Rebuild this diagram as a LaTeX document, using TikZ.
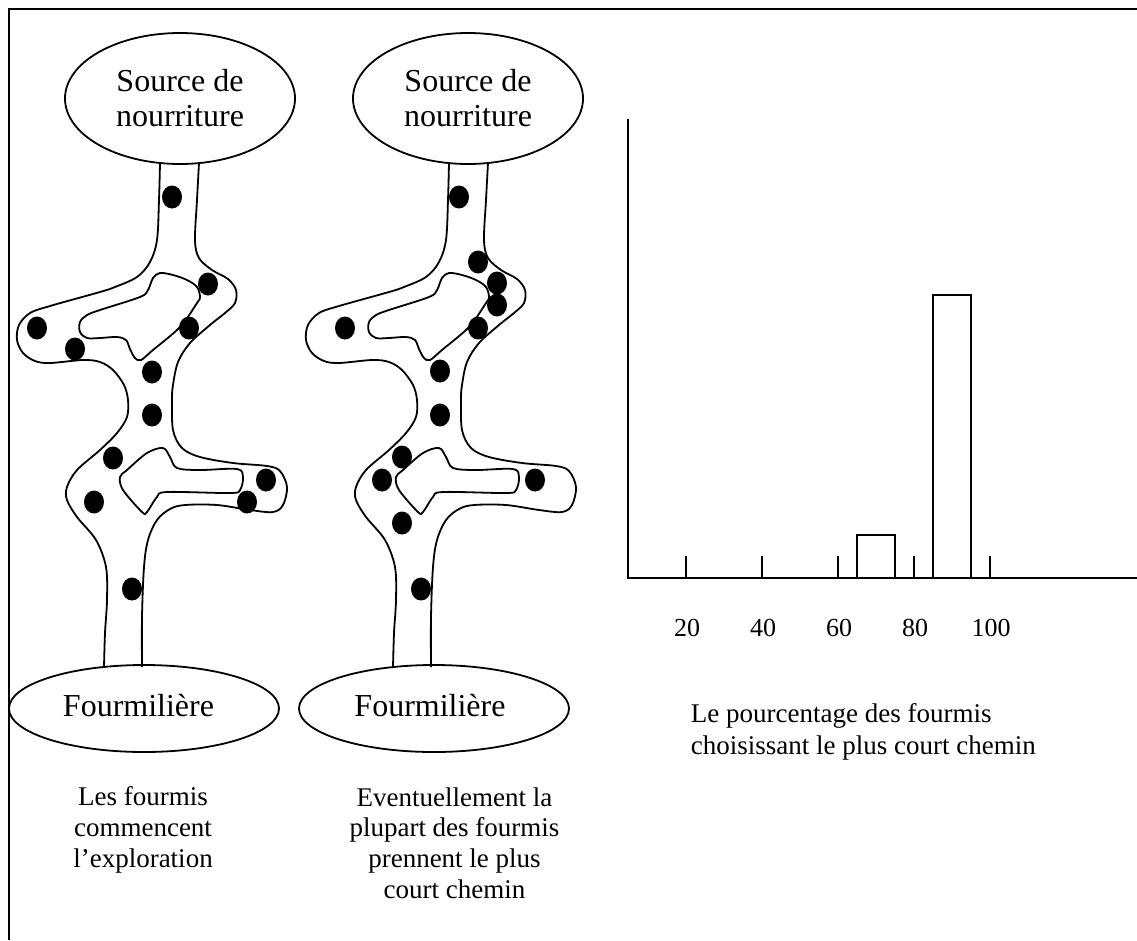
\documentclass[tikz,border=0pt]{standalone}
\usepackage{fontspec}
\setmainfont{Liberation Serif}
\usetikzlibrary{shapes.geometric}
\newcommand\trailnet[1]{%
  % left outer edge
  \draw[trail] plot[smooth, tension=0.55] coordinates {(160,163) (159,200) (157,240) (150,262) (137,277) (115,287) (100,292) (50,306) (30,313) (19,325) (17,340) (23,353) (35,361) (50,363) (83,360) (100,362) (113,370) (124,385) (128,400) (127,417) (117,433) (100,450) (77,470) (67,487) (67,500) (77,517) (96,540) (106,567) (107,600) (105,633) (104,667)};
  % right outer edge
  \draw[trail] plot[smooth, tension=0.55] coordinates {(199,163) (197,200) (195,240) (199,258) (212,270) (228,279) (236,290) (235,303) (225,313) (210,325) (190,343) (178,362) (173,385) (172,400) (173,430) (182,448) (200,457) (233,463) (267,466) (280,471) (287,487) (283,505) (273,512) (250,510) (217,505) (185,505) (170,509) (157,520) (148,540) (144,567) (142,617) (142,667)};
  % upper island
  \draw[trail] plot[smooth cycle, tension=0.55] coordinates {(160,273) (173,275) (187,280) (197,287) (200,297) (197,303) (180,327) (153,350) (141,360) (135,358) (130,349) (126,340) (117,337) (100,338) (87,338) (80,332) (80,322) (87,315) (100,310) (140,297) (148,290) (153,278)};
  % lower island
  \begin{scope}[xshift=#1pt]
  \draw[trail] plot[smooth cycle, tension=0.55] coordinates {(163,448) (170,457) (177,468) (200,470) (237,469) (243,477) (240,490) (230,493) (167,492) (157,497) (147,512) (142,512) (123,490) (120,477) (127,470) (147,453)};
  \end{scope}
}
\begin{document}
\begin{tikzpicture}[x=1pt,y=-1pt, line width=1.8pt,
  trail/.style={line width=1.8pt},
  oval/.style={draw, ellipse, line width=1.8pt, inner sep=0pt},
  bigtxt/.style={font=\fontsize{32}{35}\selectfont, align=center, inner sep=0pt},
  captxt/.style={font=\fontsize{27}{30.7}\selectfont, align=center, inner sep=0pt},
  legtxt/.style={font=\fontsize{27}{32}\selectfont, align=left, inner sep=0pt},
  ticktxt/.style={font=\fontsize{26}{30}\selectfont, inner sep=0pt, anchor=base},
  bar/.style={draw, line width=1.8pt}]
\useasboundingbox (0,0) rectangle (1137,940);
% frame
\draw (9,940) -- (9,9) -- (1137,9);

% ---------- figure 1 ----------
\node[oval, bigtxt, minimum width=230pt, minimum height=131pt] (food1) at (180,98.5) {Source de\\nourriture};
\node[oval, minimum width=270pt, minimum height=87pt] (nest1) at (144,708.5) {};
\node[bigtxt] (nestlbl1) at (138.5,706) {Fourmilière};
\trailnet{0}
\foreach \p in {(172,197),(208,284),(37,328),(75,349),(189,328),(152,372),(152,415),(113,458),(94,502),(266,480),(247,502),(132,589)}
  \fill \p ellipse [x radius=10pt, y radius=11.5pt];
\node[captxt] (cap1) at (143,830) {Les fourmis\\commencent\\l’exploration};

% ---------- figure 2 ----------
\node[oval, bigtxt, minimum width=230pt, minimum height=131pt] (food2) at (468,98.5) {Source de\\nourriture};
\node[oval, minimum width=270pt, minimum height=87pt] (nest2) at (434,708.5) {};
\node[bigtxt] (nestlbl2) at (430,706) {Fourmilière};
\begin{scope}[xshift=289pt]
\trailnet{-13}
\end{scope}
\foreach \p in {(459,197),(478,262),(497,283),(497,305),(478,328),(345,328),(440,371),(440,415),(402,457),(382,480),(535,480),(402,523),(421,589)}
  \fill \p ellipse [x radius=10pt, y radius=11.5pt];
\node[captxt] (cap2) at (454.5,843) {Eventuellement la\\plupart des fourmis\\prennent le plus\\court chemin};

% ---------- chart ----------
\coordinate (origin) at (628,578);
\coordinate (ytop) at (628,119);
\coordinate (xend) at (1137,578);
\draw (ytop) -- (origin) -- (xend);
\foreach \x/\lab in {686/20,762/40,838/60,914/80,990/100}{
  \draw (\x,578) -- (\x,556);
  \node[ticktxt] at (\x+1,636) {\lab};
}
\draw[bar] (857,578) rectangle (895,535);
\draw[bar] (933,578) rectangle (971,295);
\node[legtxt, anchor=west] (legend) at (690,732) {Le pourcentage des fourmis\\choisissant le plus court chemin};
\end{tikzpicture}
\end{document}
